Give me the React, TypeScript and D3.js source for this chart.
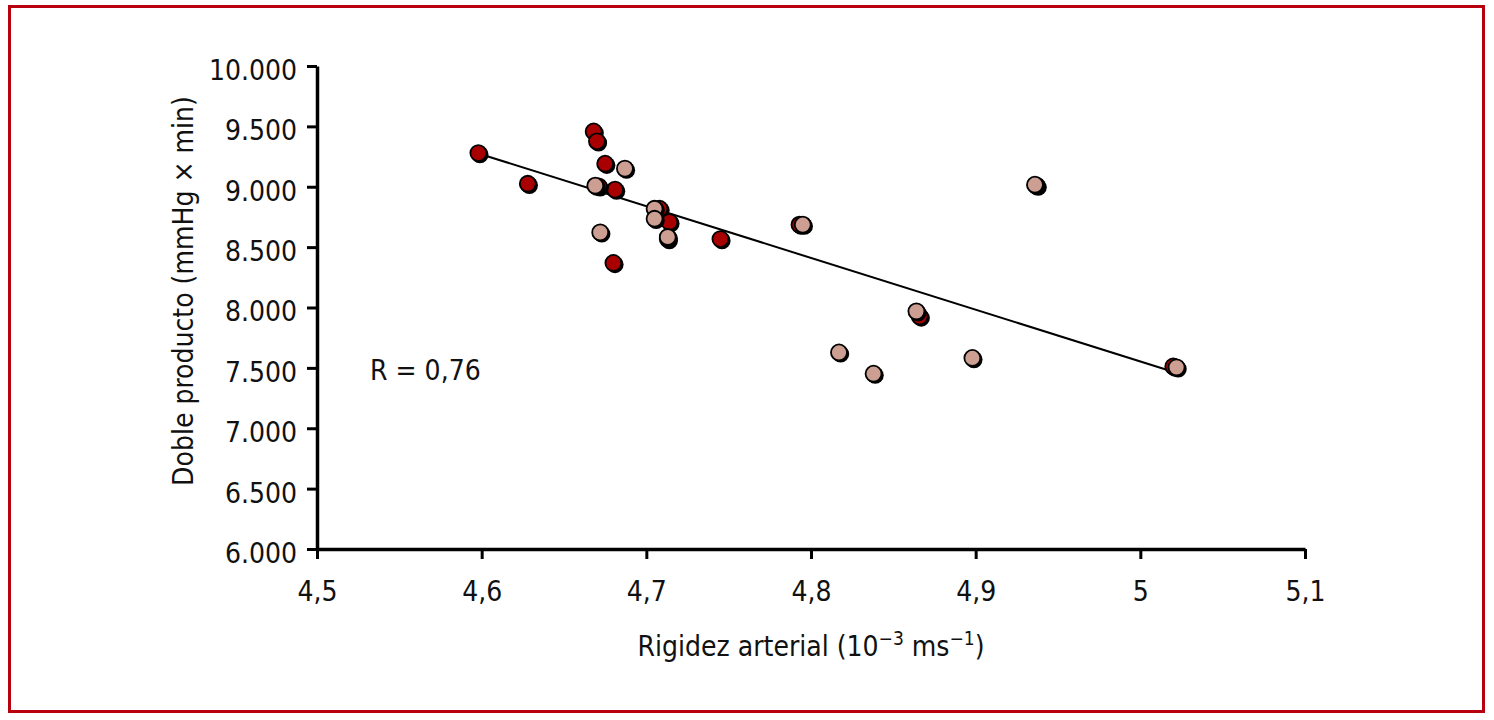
import { useEffect, useRef } from 'react';
import * as d3 from 'd3';

// Rigidez arterial (x) vs doble producto (y), two groups
const redX = [4.598, 4.628, 4.668, 4.670, 4.675, 4.681, 4.671, 4.680, 4.708, 4.714, 4.713, 4.745, 4.793, 4.866, 4.937, 5.020];
const redY = [9279, 9025, 9458, 9376, 9191, 8976, 9003, 8369, 8818, 8708, 8567, 8567, 8686, 7926, 9009, 7512];
const tanX = [4.687, 4.669, 4.672, 4.705, 4.705, 4.713, 4.795, 4.864, 4.817, 4.838, 4.898, 4.936, 5.022];
const tanY = [9150, 9009, 8622, 8818, 8735, 8584, 8686, 7968, 7628, 7452, 7582, 9017, 7504];

// regression line end points
const fitX = [4.598, 5.016];
const fitY = [9276, 7485];

const xTicks = [4.5, 4.6, 4.7, 4.8, 4.9, 5.0, 5.1];
const yTicks = [6000, 6500, 7000, 7500, 8000, 8500, 9000, 9500, 10000];
const rLabel = 'R = 0,76';

const esLocale = d3.formatLocale({ decimal: ',', thousands: '.', grouping: [3], currency: ['', ''] });
const fmtY = esLocale.format(',');
const fmtX = (v: number) => String(+v.toFixed(2)).replace('.', ',');

const FONT = '"DejaVu Sans Condensed", "DejaVu Sans", sans-serif';
const FS = 28;
const RED = '#a80000';
const TAN = '#cd9f93';

export default function App() {
    const svgRef = useRef<SVGSVGElement>(null);

    useEffect(() => {
        document.body.style.margin = '0';
        if (!svgRef.current) return;
        const svg = d3.select(svgRef.current);
        svg.selectAll('*').remove();

        const width = 1494;
        const height = 720;
        const margin = { top: 66, right: 189, bottom: 171, left: 317 };
        const innerWidth = width - margin.left - margin.right;
        const innerHeight = height - margin.top - margin.bottom;

        // Frame
        svg.append('rect')
            .attr('x', 9.5).attr('y', 6.5)
            .attr('width', 1474).attr('height', 705)
            .attr('fill', 'none')
            .attr('stroke', '#b8000f')
            .attr('stroke-width', 3);

        const x = d3.scaleLinear().domain([4.5, 5.1]).range([0, innerWidth]);
        const y = d3.scaleLinear().domain([6000, 10000]).range([innerHeight, 0]);

        const g = svg.append('g')
            .attr('transform', `translate(${margin.left},${margin.top})`);

        // X axis
        g.append('g')
            .attr('transform', `translate(0,${innerHeight})`)
            .call(d3.axisBottom(x).tickValues(xTicks).tickFormat(d => fmtX(+d)).tickSize(10).tickPadding(22).tickSizeOuter(0))
            .call(a => a.select('.domain').attr('stroke', '#000').attr('stroke-width', 3.5))
            .call(a => a.selectAll('.tick line').attr('stroke', '#000').attr('stroke-width', 3))
            .call(a => a.selectAll('.tick text')
                .attr('fill', '#111')
                .attr('font-family', FONT)
                .attr('font-size', FS));

        // Y axis
        g.append('g')
            .call(d3.axisLeft(y).tickValues(yTicks).tickFormat(d => fmtY(+d)).tickSize(10).tickPadding(10).tickSizeOuter(0))
            .call(a => a.select('.domain').attr('stroke', '#000').attr('stroke-width', 3.5))
            .call(a => a.selectAll('.tick line').attr('stroke', '#000').attr('stroke-width', 3))
            .call(a => a.selectAll('.tick text')
                .attr('fill', '#111')
                .attr('dy', '0.48em')
                .attr('font-family', FONT)
                .attr('font-size', FS));

        // Regression line
        const line = d3.line<number>()
            .x((_, i) => x(fitX[i]))
            .y(d => y(d));
        g.append('path')
            .datum(fitY)
            .attr('d', line)
            .attr('fill', 'none')
            .attr('stroke', '#000')
            .attr('stroke-width', 2);

        const drawPoints = (xs: number[], ys: number[], fill: string) => {
            const pts = xs.map((v, i) => ({ x: v, y: ys[i] }));
            const grp = g.append('g');
            const pg = grp.selectAll('g.pt')
                .data(pts)
                .enter()
                .append('g')
                .attr('class', 'pt')
                .attr('transform', d => `translate(${x(d.x)},${y(d.y)})`);
            pg.append('circle')
                .attr('cx', 1.6).attr('cy', 1.6)
                .attr('r', 8.6)
                .attr('fill', '#000');
            pg.append('circle')
                .attr('r', 8)
                .attr('fill', fill)
                .attr('stroke', '#000')
                .attr('stroke-width', 1.8);
        };
        drawPoints(redX, redY, RED);
        drawPoints(tanX, tanY, TAN);

        // R label
        g.append('text')
            .attr('x', 370 - margin.left)
            .attr('y', 380 - margin.top)
            .attr('font-family', FONT)
            .attr('font-size', FS)
            .attr('fill', '#111')
            .text(rLabel);

        // X title
        const xt = svg.append('text')
            .attr('x', margin.left + innerWidth / 2)
            .attr('y', 656)
            .attr('text-anchor', 'middle')
            .attr('font-family', FONT)
            .attr('font-size', FS)
            .attr('fill', '#111');
        xt.append('tspan').text('Rigidez arterial (10');
        xt.append('tspan').attr('font-size', 19).attr('dy', -11).text('\u22123');
        xt.append('tspan').attr('dy', 11).text(' ms');
        xt.append('tspan').attr('font-size', 19).attr('dy', -11).text('\u22121');
        xt.append('tspan').attr('dy', 11).text(')');

        // Y title
        svg.append('text')
            .attr('transform', 'translate(193,291) rotate(-90)')
            .attr('text-anchor', 'middle')
            .attr('font-family', FONT)
            .attr('font-size', FS)
            .attr('fill', '#111')
            .text('Doble producto (mmHg \u00d7 min)');
    }, []);

    return (
        <svg
            ref={svgRef}
            width={1494}
            height={720}
            style={{ display: 'block', background: '#fff' }}
        />
    );
}
